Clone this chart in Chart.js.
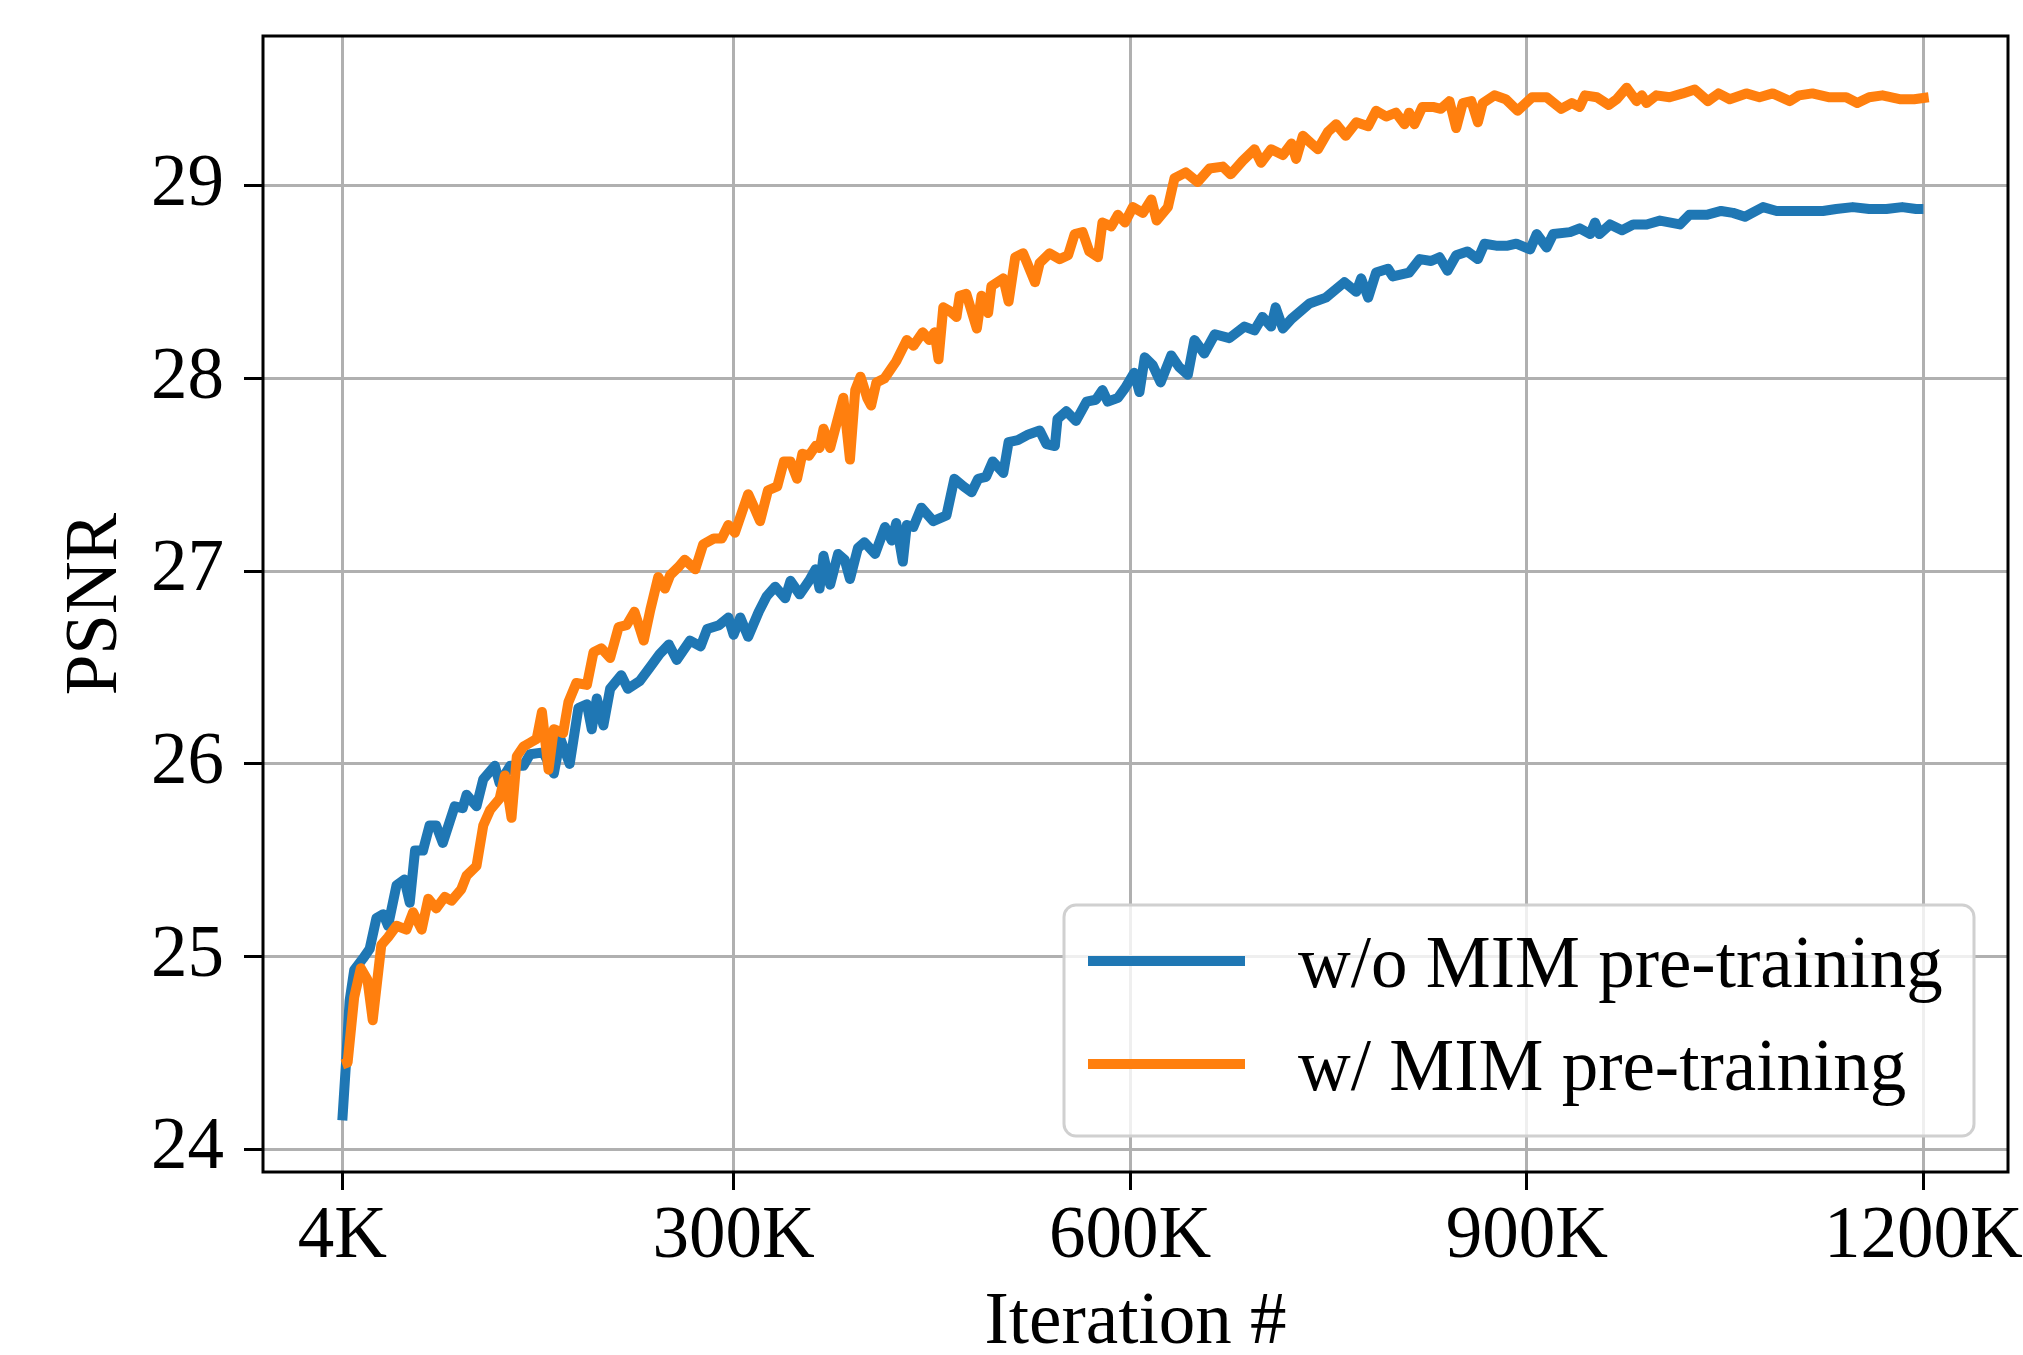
<!DOCTYPE html>
<html><head><meta charset="utf-8">
<script src="https://cdn.jsdelivr.net/npm/chart.js@4/dist/chart.umd.min.js"></script>
<style>html,body{margin:0;padding:0;background:#fff;overflow:hidden}canvas{display:block}</style>
</head><body>
<canvas id="c" width="2023" height="1355"></canvas>
<script>
const seriesLabels = ['w/o MIM pre-training', 'w/ MIM pre-training'];
const seriesColors = ['#1f77b4', '#ff7f0e'];
const xTitle = 'Iteration #';
const yTitle = 'PSNR';
const xTickValues = [4, 300, 600, 900, 1200];
const yTickValues = [24, 25, 26, 27, 28, 29];

const blueIter = [4,7,9.5,13,19.6,24.7,29.8,35,38.6,45,51,55,59,65,70,75,80,89,95,98,105.5,110.6,119.4,123,131,141,146,156,164,169,176,182.6,189,192.7,196.5,201.5,206.6,215,220,229,236.6,244,251,257,267,275,280,289,296,300,305,311,319,325,331.5,339,343,350,357,362,365,368,373,379,384,388,394,399,407,414.5,419.6,423,428,431,436,442,451,461,467,474,480,485,491,496,504,508,515,523,531.5,536.6,543,545,551.7,559,567,574,579,583,590.7,596,603,607,611,617,623,631,637,643.6,648.6,656,664,675,686.5,694,700,706.6,710,715.5,722,735.6,748,762,771,774.7,780,786,795,798.6,811,819,827.6,834,840,846.6,855,863,868,876.8,885.6,892,902.5,907.5,915,920,932.7,940,948,951.6,955,963,972,980.5,990.6,1000.7,1015.8,1023,1036,1047,1056,1065,1078.7,1089,1100,1111,1124,1134,1146.6,1159,1172,1184,1194.5,1200];
const bluePSNR = [24.15,24.47,24.77,24.93,24.99,25.04,25.2,25.22,25.16,25.37,25.4,25.28,25.55,25.55,25.68,25.68,25.59,25.78,25.77,25.84,25.78,25.92,25.99,25.9,25.99,25.99,26.05,26.06,25.95,26.13,26.0,26.29,26.31,26.18,26.34,26.2,26.39,26.46,26.39,26.43,26.5,26.57,26.62,26.54,26.64,26.61,26.7,26.72,26.76,26.67,26.76,26.66,26.79,26.87,26.92,26.86,26.95,26.88,26.95,27.01,26.91,27.08,26.93,27.09,27.06,26.96,27.12,27.15,27.09,27.23,27.16,27.25,27.05,27.24,27.23,27.33,27.26,27.29,27.48,27.44,27.41,27.48,27.49,27.57,27.51,27.67,27.68,27.71,27.73,27.66,27.65,27.79,27.83,27.78,27.88,27.89,27.94,27.88,27.9,27.95,28.03,27.93,28.11,28.07,27.98,28.12,28.06,28.02,28.2,28.13,28.23,28.21,28.27,28.25,28.32,28.27,28.37,28.26,28.31,28.39,28.42,28.5,28.45,28.52,28.42,28.55,28.57,28.53,28.55,28.62,28.61,28.63,28.56,28.64,28.66,28.62,28.7,28.69,28.69,28.7,28.67,28.75,28.68,28.75,28.76,28.78,28.75,28.81,28.75,28.8,28.77,28.8,28.8,28.82,28.8,28.85,28.85,28.87,28.86,28.84,28.89,28.87,28.87,28.87,28.87,28.88,28.89,28.88,28.88,28.89,28.88,28.88];

const orangeIter = [4,8,13,18,23,27,33.5,38.6,45,52.5,57.5,64,69,75,81.5,86.6,94,98,105.5,110.6,115.7,123,127,132,136,141,146,151,155,160,164,171,175,181,189,194,200,206.6,213,219,225,232,237,243,248,252,258,263,271,277,285,291,296,301,306,311,315,320,326,333,338,343,348,352,357,362,365,368,373,378,383,388,392,396,401,404,408,414,423,431,436,443,448,452,455,458.6,463.6,468.6,471,476,484,487.5,492.5,495,504,508,513,519,528,531.5,539,546.6,553,558,564,569,575.6,579,585.7,590.7,596,602,609.6,616,620,628.5,633.5,642,651,660,670,676,685,694,699,706.6,715.5,722,725.5,730.6,737,742,749.5,755.8,763,771,780,786,793.6,801,807.5,811,815,821,829,835,841.5,846.6,851.6,858,863,866.7,875.5,884,893,904,915,926,934,940,944,953,962,968,975.5,983,987,990.6,998,1008,1018,1027,1037,1045,1053.5,1066,1076,1086,1099,1106,1116,1129,1141.6,1150,1159,1169,1182,1193,1204];
const orangePSNR = [24.44,24.45,24.79,24.94,24.88,24.67,25.06,25.1,25.16,25.14,25.23,25.14,25.3,25.25,25.31,25.29,25.35,25.42,25.47,25.68,25.76,25.82,25.94,25.72,26.04,26.09,26.11,26.13,26.27,25.97,26.18,26.16,26.32,26.42,26.41,26.58,26.6,26.55,26.71,26.72,26.79,26.64,26.8,26.97,26.91,26.98,27.02,27.06,27.01,27.14,27.17,27.17,27.24,27.2,27.3,27.4,27.34,27.26,27.42,27.44,27.57,27.57,27.48,27.61,27.6,27.65,27.64,27.74,27.64,27.77,27.9,27.58,27.94,28.01,27.9,27.86,27.98,28.0,28.09,28.2,28.17,28.24,28.2,28.24,28.1,28.37,28.35,28.32,28.43,28.44,28.26,28.43,28.34,28.48,28.52,28.4,28.63,28.65,28.5,28.6,28.65,28.62,28.64,28.75,28.76,28.66,28.63,28.81,28.79,28.85,28.81,28.89,28.86,28.93,28.82,28.89,29.04,29.07,29.02,29.09,29.1,29.06,29.13,29.19,29.12,29.19,29.16,29.22,29.14,29.26,29.22,29.19,29.28,29.32,29.26,29.33,29.31,29.39,29.36,29.38,29.32,29.38,29.32,29.41,29.41,29.4,29.44,29.3,29.43,29.44,29.33,29.43,29.47,29.45,29.39,29.46,29.46,29.4,29.43,29.41,29.47,29.46,29.42,29.45,29.51,29.44,29.47,29.43,29.47,29.46,29.48,29.5,29.44,29.48,29.45,29.48,29.46,29.48,29.44,29.47,29.48,29.46,29.46,29.43,29.46,29.47,29.45,29.45,29.46];

const FONT = "'Liberation Serif', 'Times New Roman', serif";
const FS = 73;

const allX = blueIter.concat(orangeIter), allY = bluePSNR.concat(orangePSNR);
const xLo = Math.min(...allX), xHi = Math.max(...allX), yLo = Math.min(...allY), yHi = Math.max(...allY);
const xMargin = 0.05 * (xHi - xLo), yMargin = 0.05 * (yHi - yLo);

const toPts = (xs, ys) => xs.map((x, i) => ({x: x, y: ys[i]}));

const framePlugin = {
  id: 'frame',
  afterDatasetsDraw(chart) {
    const a = chart.chartArea, ctx = chart.ctx;
    ctx.save();
    ctx.strokeStyle = '#000';
    ctx.lineWidth = 3;
    ctx.strokeRect(a.left, a.top, a.right - a.left, a.bottom - a.top);
    ctx.restore();
  }
};

const legendPlugin = {
  id: 'mplLegend',
  afterDraw(chart) {
    const a = chart.chartArea, ctx = chart.ctx;
    const w = 910, h = 231;
    const x0 = a.right - 34 - w, y0 = a.bottom - 36 - h;
    ctx.save();
    ctx.beginPath();
    if (ctx.roundRect) ctx.roundRect(x0, y0, w, h, 12); else ctx.rect(x0, y0, w, h);
    ctx.fillStyle = 'rgba(255,255,255,0.8)';
    ctx.fill();
    ctx.strokeStyle = '#d0d0d0';
    ctx.lineWidth = 3;
    ctx.stroke();
    ctx.font = FS + 'px ' + FONT;
    ctx.fillStyle = '#000';
    ctx.textBaseline = 'alphabetic';
    ctx.textAlign = 'left';
    seriesLabels.forEach((lab, i) => {
      const ly = y0 + 56 + i * 103;
      ctx.beginPath();
      ctx.moveTo(x0 + 24, ly);
      ctx.lineTo(x0 + 181, ly);
      ctx.strokeStyle = seriesColors[i];
      ctx.lineWidth = 10;
      ctx.lineCap = 'butt';
      ctx.stroke();
      ctx.fillText(lab, x0 + 234, ly + 26);
    });
    ctx.restore();
  }
};

new Chart(document.getElementById('c'), {
  type: 'line',
  data: {
    datasets: [
      {label: seriesLabels[0], data: toPts(blueIter, bluePSNR), borderColor: seriesColors[0], order: 1},
      {label: seriesLabels[1], data: toPts(orangeIter, orangePSNR), borderColor: seriesColors[1], order: 0}
    ]
  },
  options: {
    responsive: false,
    devicePixelRatio: 1,
    animation: false,
    events: [],
    elements: {
      line: {borderWidth: 10, tension: 0, borderJoinStyle: 'round', borderCapStyle: 'butt', fill: false},
      point: {radius: 0}
    },
    layout: {padding: {left: 0, right: 15, top: 36, bottom: 0}},
    plugins: {legend: {display: false}, tooltip: {enabled: false}},
    scales: {
      x: {
        type: 'linear',
        min: xLo - xMargin,
        max: xHi + xMargin,
        afterBuildTicks: s => { s.ticks = xTickValues.map(v => ({value: v})); },
        afterFit: s => { s.height = 183; s.paddingLeft = 0; s.paddingRight = 0; },
        ticks: {
          color: '#000', padding: 4, maxRotation: 0, autoSkip: false,
          font: {family: FONT, size: FS},
          callback: v => v + 'K'
        },
        grid: {color: '#b0b0b0', lineWidth: 3, tickColor: '#000', tickLength: 18, tickWidth: 3},
        border: {display: false},
        title: {display: true, text: xTitle, color: '#000', font: {family: FONT, size: FS, lineHeight: 1}, padding: {top: 0, bottom: -5}}
      },
      y: {
        type: 'linear',
        min: yLo - yMargin,
        max: yHi + yMargin,
        afterBuildTicks: s => { s.ticks = yTickValues.map(v => ({value: v})); },
        afterFit: s => { s.width = 263; s.paddingTop = 0; s.paddingBottom = 0; },
        ticks: {color: '#000', padding: 20, font: {family: FONT, size: FS}, callback: v => String(v)},
        grid: {color: '#b0b0b0', lineWidth: 3, tickColor: '#000', tickLength: 19, tickWidth: 3},
        border: {display: false},
        title: {display: true, text: yTitle, color: '#000', font: {family: FONT, size: FS, lineHeight: 1}, padding: {top: 60, bottom: 0}}
      }
    }
  },
  plugins: [framePlugin, legendPlugin]
});
</script>
</body></html>
